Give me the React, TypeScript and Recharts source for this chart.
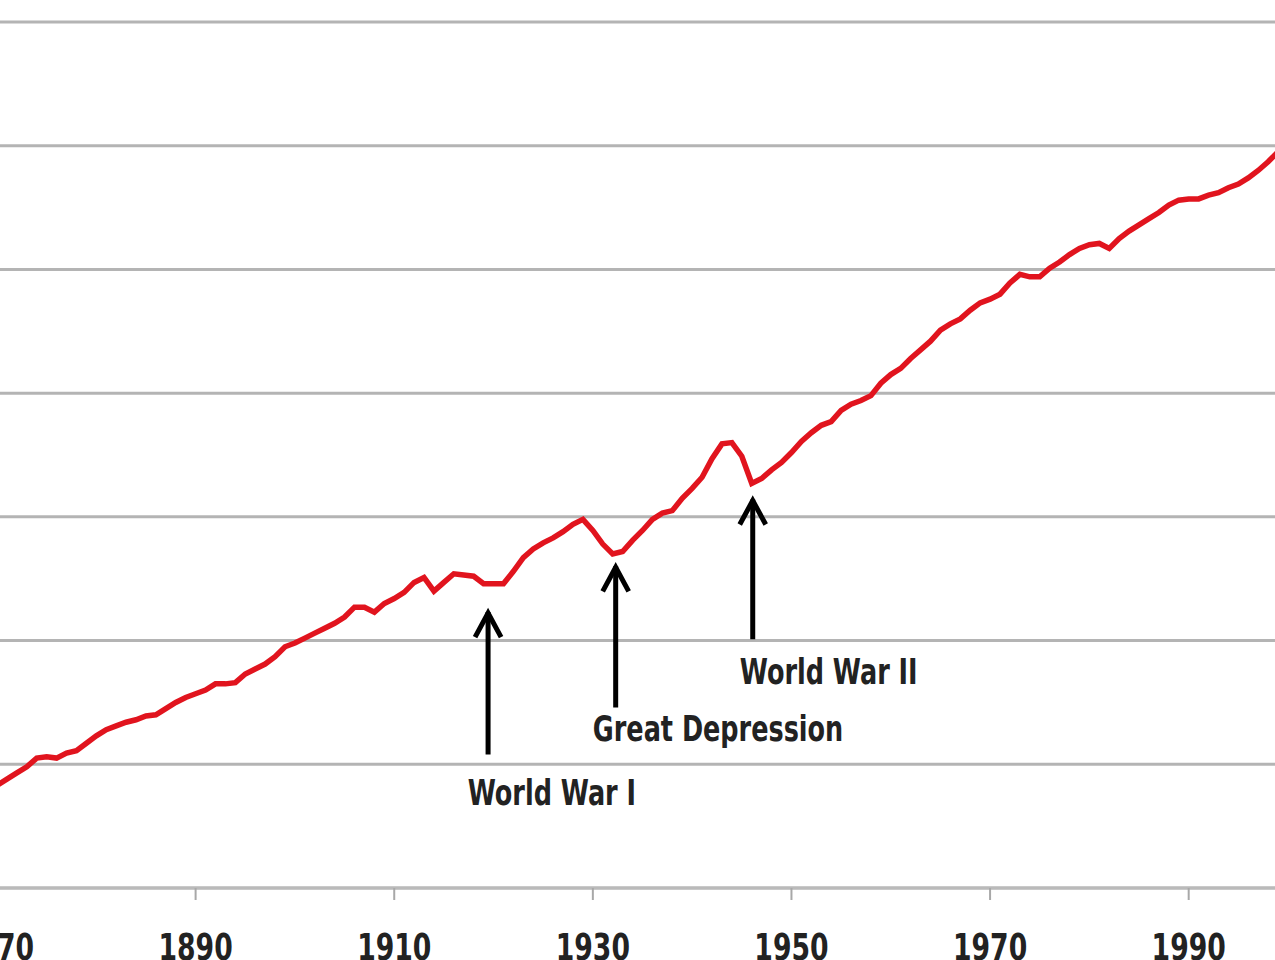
import React from "react";
import {
  LineChart,
  Line,
  XAxis,
  YAxis,
  CartesianGrid,
  ReferenceLine,
  ReferenceDot,
} from "recharts";

// years shown on the x axis
const years = Array.from({ length: 130 }, (_, i) => 1870 + i);

// values in grid units (one unit = one horizontal gridline step)
const values = [
  0.83, 0.88, 0.93, 0.98, 1.05, 1.06, 1.05, 1.09, 1.11, 1.17,
  1.23, 1.28, 1.31, 1.34, 1.36, 1.39, 1.40, 1.45, 1.50, 1.54,
  1.57, 1.60, 1.65, 1.65, 1.66, 1.73, 1.77, 1.81, 1.87, 1.95,
  1.98, 2.02, 2.06, 2.10, 2.14, 2.19, 2.27, 2.27, 2.23, 2.30,
  2.34, 2.39, 2.47, 2.51, 2.40, 2.47, 2.54, 2.53, 2.52, 2.46,
  2.46, 2.46, 2.56, 2.67, 2.74, 2.79, 2.83, 2.88, 2.94, 2.98,
  2.89, 2.78, 2.70, 2.72, 2.81, 2.89, 2.98, 3.03, 3.05, 3.15,
  3.23, 3.32, 3.47, 3.59, 3.60, 3.49, 3.27, 3.31, 3.38, 3.44,
  3.52, 3.61, 3.68, 3.74, 3.77, 3.86, 3.91, 3.94, 3.98, 4.08,
  4.15, 4.20, 4.28, 4.35, 4.42, 4.51, 4.56, 4.60, 4.67, 4.73,
  4.76, 4.80, 4.89, 4.96, 4.94, 4.94, 5.01, 5.06, 5.12, 5.17,
  5.20, 5.21, 5.17, 5.25, 5.31, 5.36, 5.41, 5.46, 5.52, 5.56,
  5.57, 5.57, 5.60, 5.62, 5.66, 5.69, 5.74, 5.80, 5.87, 5.95,
];

const xTicks = [1870, 1890, 1910, 1930, 1950, 1970, 1990];
const yTicks = [0, 1, 2, 3, 4, 5, 6, 7];

// arrow annotations: arrow year, tip / tail value, text anchor (year, baseline value)
const notes = [
  { label: "World War I", x: 1919.45, tip: 2.23, tail: 1.08, tx: 1917.4, ty: 0.67 },
  { label: "Great Depression", x: 1932.3, tip: 2.6, tail: 1.46, tx: 1930.0, ty: 1.19 },
  { label: "World War II", x: 1946.1, tip: 3.14, tail: 2.01, tx: 1944.8, ty: 1.65 },
];

const data = years.map((year, i) => ({ year, value: values[i] }));

const FONT = "'Liberation Sans Narrow', 'DejaVu Sans Condensed', 'Arial Narrow', sans-serif";

// condensed look: squeeze the text horizontally
const YearTick = (props: any) => {
  const { x, y, payload } = props;
  return (
    <text
      transform={`translate(${x},${y}) scale(0.78,1)`}
      textAnchor="middle"
      dy="0.71em"
      fontFamily={FONT}
      fontSize={38}
      fontWeight="bold"
      fill="#222"
    >
      {payload.value}
    </text>
  );
};

const ArrowHead = (props: any) => {
  const { cx, cy } = props;
  return (
    <path
      d={`M${cx - 13},${cy + 25} L${cx},${cy + 1} L${cx + 13},${cy + 25}`}
      fill="none"
      stroke="#000"
      strokeWidth={5}
    />
  );
};

const NoteText = (label: string) => (props: any) => (
  <text
    transform={`translate(${props.cx},${props.cy}) scale(0.81,1)`}
    fontFamily={FONT}
    fontSize={35}
    fontWeight="bold"
    fill="#222"
  >
    {label}
  </text>
);

export default function App() {
  return (
    <div
      style={{
        position: "absolute",
        left: 0,
        top: 0,
        width: 1275,
        height: 960,
        overflow: "hidden",
        background: "#fff",
      }}
    >
      <div style={{ position: "absolute", left: -3, top: 0 }}>
        <LineChart
          width={1291}
          height={960}
          data={data}
          margin={{ top: 22, right: 0, left: 0, bottom: 0 }}
        >
          <CartesianGrid
            vertical={false}
            stroke="#b4b4b4"
            strokeWidth={3}
          />
          <XAxis
            dataKey="year"
            type="number"
            domain={[1870, 2000]}
            ticks={xTicks}
            interval={0}
            height={72}
            axisLine={{ stroke: "#bababa", strokeWidth: 3 }}
            tickLine={{ stroke: "#a8a8a8", strokeWidth: 2 }}
            tickSize={12}
            tickMargin={33}
            tick={<YearTick />}
          />
          <YAxis hide type="number" domain={[0, 7]} ticks={yTicks} />
          <Line
            type="linear"
            dataKey="value"
            stroke="#e1141e"
            strokeWidth={5.5}
            dot={false}
            isAnimationActive={false}
          />
          {notes.map((n) => (
            <ReferenceLine
              key={n.label + "-shaft"}
              segment={[
                { x: n.x, y: n.tip },
                { x: n.x, y: n.tail },
              ]}
              stroke="#000"
              strokeWidth={5}
            />
          ))}
          {notes.map((n) => (
            <ReferenceDot
              key={n.label + "-head"}
              x={n.x}
              y={n.tip}
              shape={ArrowHead}
            />
          ))}
          {notes.map((n) => (
            <ReferenceDot
              key={n.label + "-text"}
              x={n.tx}
              y={n.ty}
              shape={NoteText(n.label)}
            />
          ))}
        </LineChart>
      </div>
    </div>
  );
}
